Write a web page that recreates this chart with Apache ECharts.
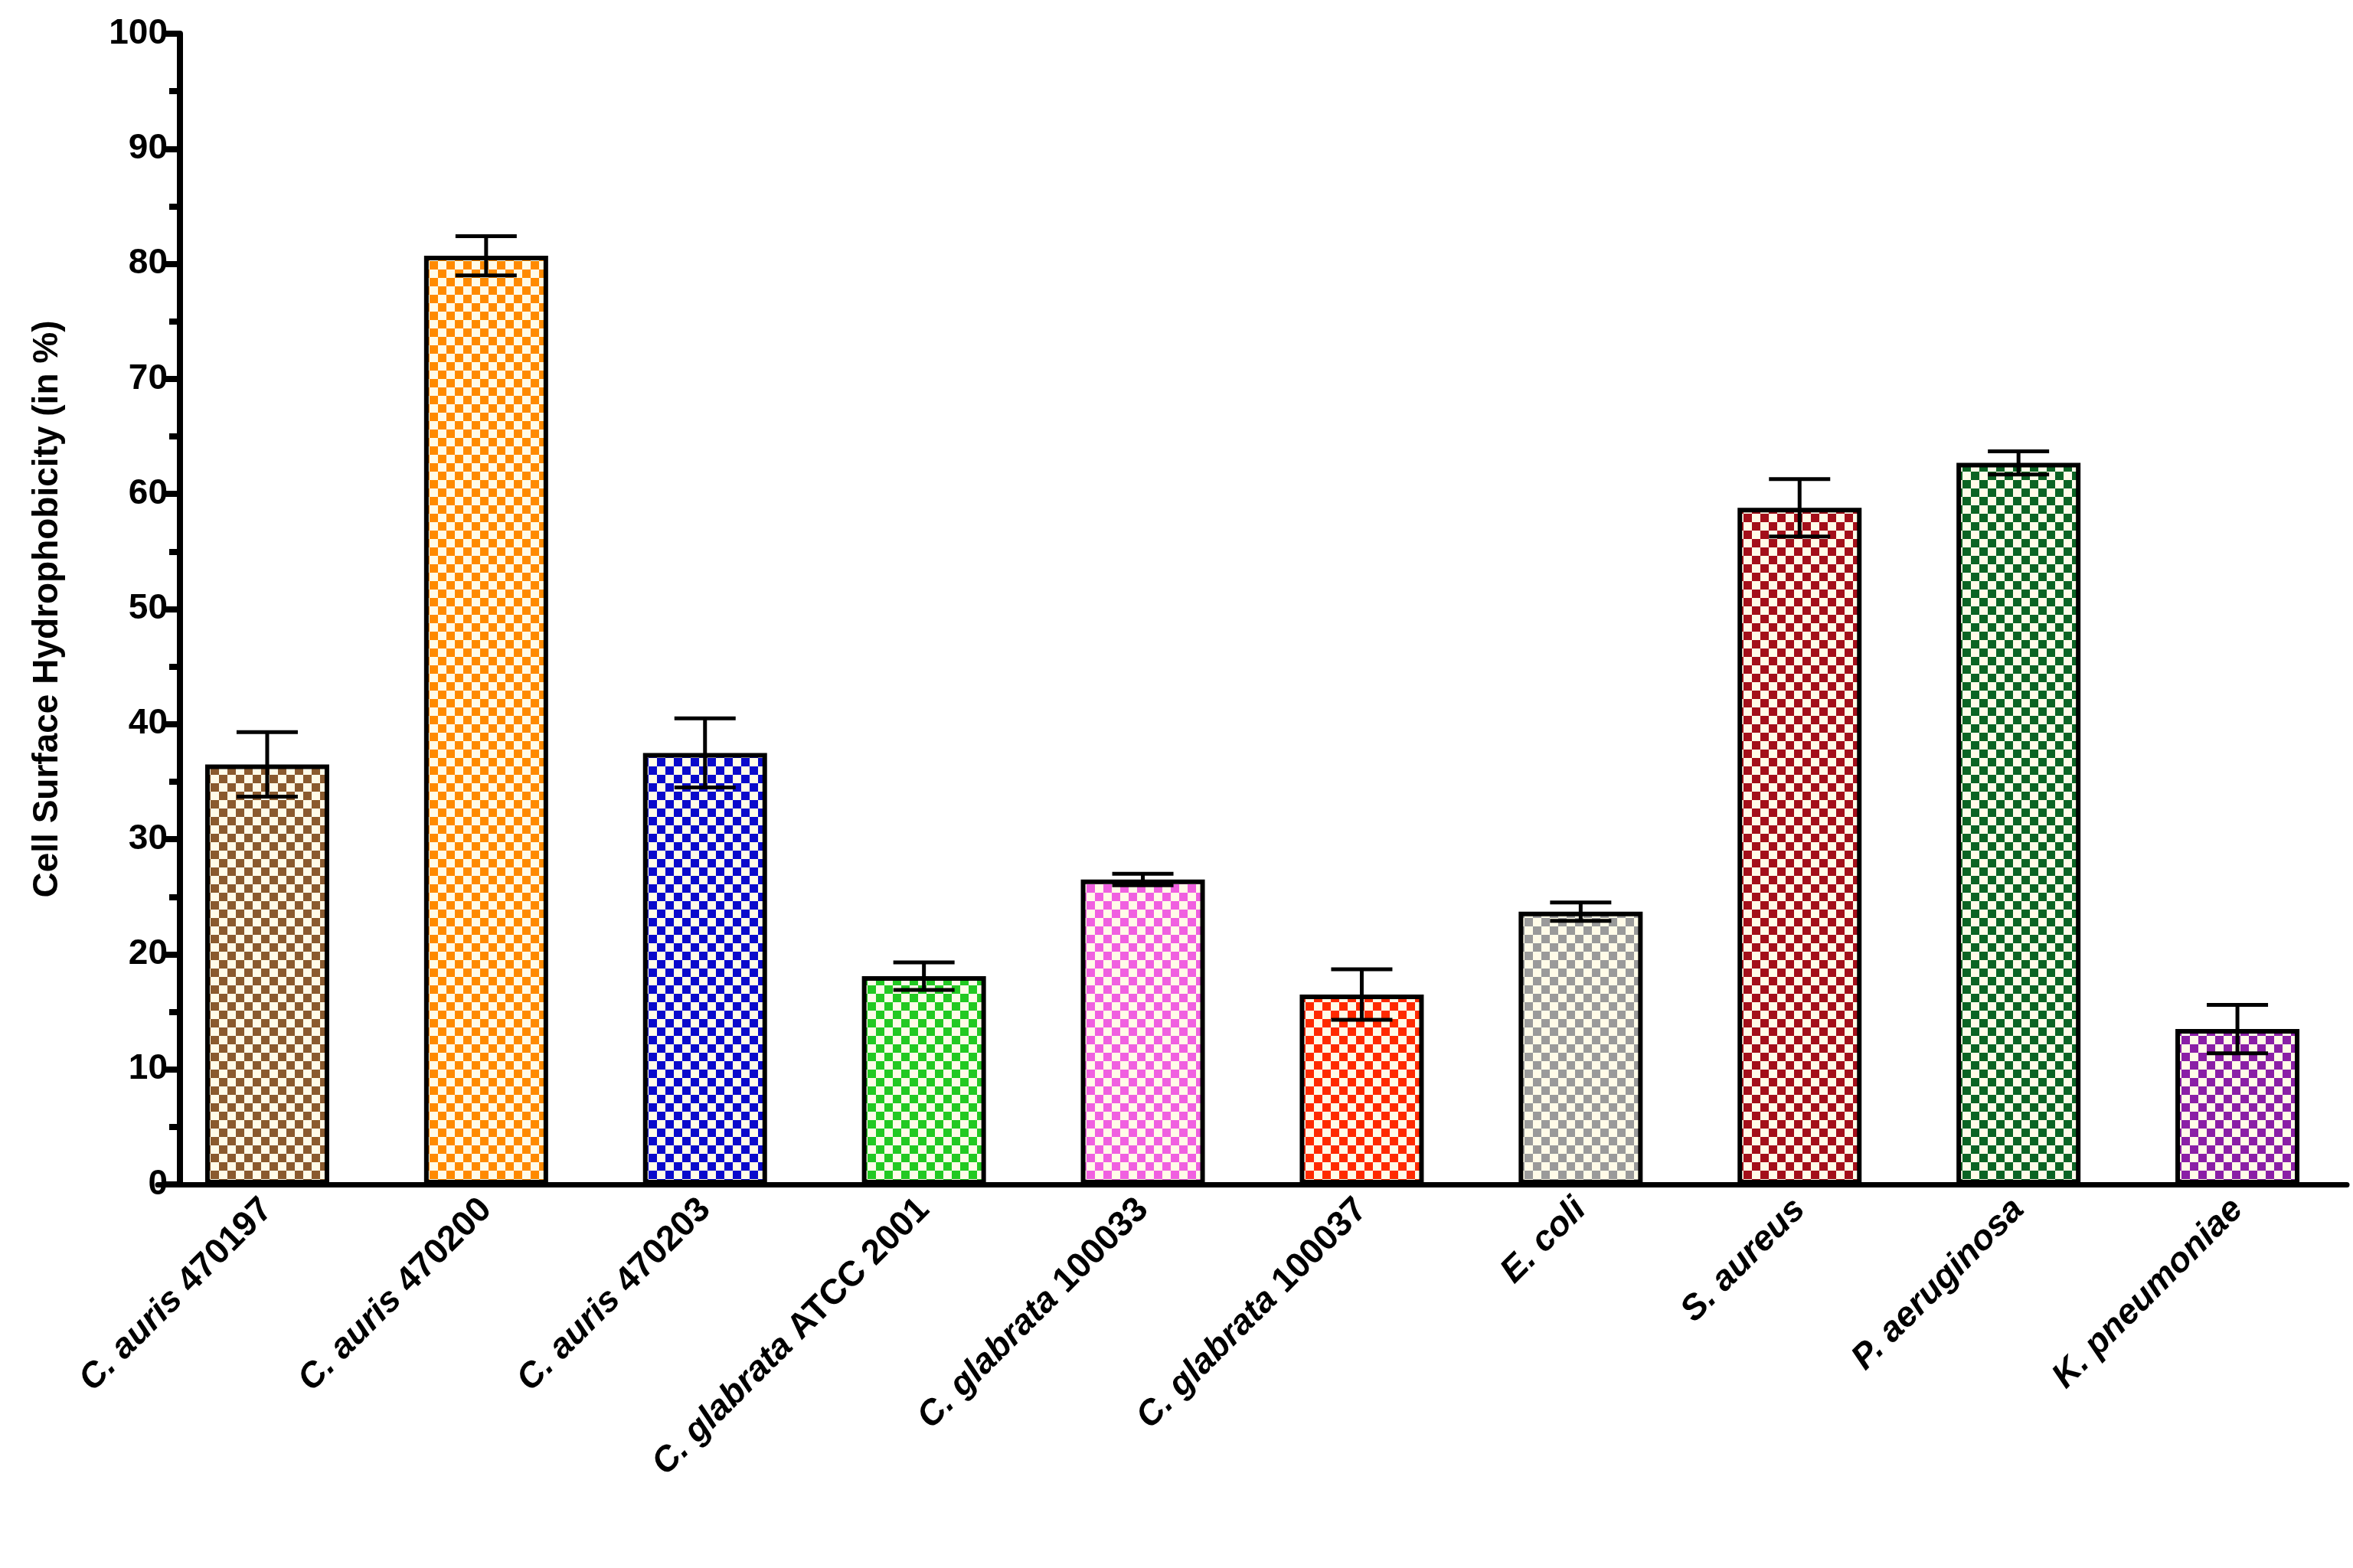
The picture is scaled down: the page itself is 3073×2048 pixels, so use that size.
<!DOCTYPE html>
<html>
<head>
<meta charset="utf-8">
<script src="https://cdn.jsdelivr.net/npm/echarts@6/dist/echarts.min.js"></script>
<style>
  html, body { margin: 0; padding: 0; background: #fff; }
  #chart { width: 3073px; height: 2048px; }
</style>
</head>
<body>
<div id="chart"></div>
<script>
// data
const genus = ['C. auris', 'C. auris', 'C. auris', 'C. glabrata', 'C. glabrata', 'C. glabrata', 'E. coli', 'S. aureus', 'P. aeruginosa', 'K. pneumoniae'];
const strain = ['470197', '470200', '470203', 'ATCC 2001', '100033', '100037', '', '', '', ''];
const means = [36.5, 80.7, 37.5, 18.1, 26.5, 16.5, 23.7, 58.8, 62.7, 13.5];
const errs = [2.8, 1.7, 3.0, 1.2, 0.5, 2.2, 0.8, 2.5, 1.0, 2.1];
const colors = ['#8a5a2e', '#ff8a00', '#0a0acc', '#22c922', '#f060e0', '#ff2a00', '#9a9a9a', '#a30f1a', '#0b6424', '#8a1fa6'];

const categories = genus.map((g, i) => strain[i] ? g + '|' + strain[i] : g);

// checkerboard fill
function checker(color) {
  const c = document.createElement('canvas');
  const s = 11;
  c.width = s * 2; c.height = s * 2;
  const ctx = c.getContext('2d');
  ctx.fillStyle = '#fffbe8';
  ctx.fillRect(0, 0, s * 2, s * 2);
  ctx.fillStyle = color;
  ctx.fillRect(0, 0, s, s);
  ctx.fillRect(s, s, s, s);
  return { image: c, repeat: 'repeat' };
}

const chart = echarts.init(document.getElementById('chart'));
const font = 'Liberation Sans, Arial';

chart.setOption({
  animation: false,
  grid: { left: 206, right: 8, top: 44, bottom: 501 },
  xAxis: {
    type: 'category',
    data: categories,
    axisLine: { lineStyle: { color: '#000', width: 7 } },
    axisTick: { alignWithLabel: true, length: 22, lineStyle: { color: '#000', width: 6 } },
    axisLabel: {
      rotate: 45,
      margin: 26,
      interval: 0,
      formatter: v => {
        const p = v.split('|');
        return p.length > 1 ? '{i|' + p[0] + ' }{n|' + p[1] + '}' : '{i|' + p[0] + '}';
      },
      rich: {
        i: { fontFamily: font, fontWeight: 'bold', fontStyle: 'italic', fontSize: 46, color: '#000' },
        n: { fontFamily: font, fontWeight: 'bold', fontSize: 46, color: '#000' }
      }
    }
  },
  yAxis: {
    type: 'value',
    min: 0, max: 100, interval: 10,
    offset: -29,
    name: 'Cell Surface Hydrophobicity (in %)',
    nameLocation: 'middle',
    nameGap: 150,
    nameTextStyle: { fontFamily: font, fontWeight: 'bold', fontSize: 46, color: '#000' },
    axisLine: { show: true, lineStyle: { color: '#000', width: 8 } },
    axisTick: { show: true, length: 24, lineStyle: { color: '#000', width: 8 } },
    minorTick: { show: true, splitNumber: 2, length: 14, lineStyle: { color: '#000', width: 8 } },
    splitLine: { show: false },
    axisLabel: { fontFamily: font, fontWeight: 'bold', fontSize: 46, color: '#000', margin: 16 }
  },
  series: [
    {
      type: 'bar',
      data: means.map((v, i) => ({ value: v, itemStyle: { color: checker(colors[i]) } })),
      barWidth: 162,
      itemStyle: { borderColor: '#000', borderWidth: 6 },
      z: 2
    },
    {
      type: 'custom',
      data: means.map((v, i) => [i, v, errs[i]]),
      z: 3,
      renderItem: (params, api) => {
        const x = api.value(0);
        const lo = api.coord([x, api.value(1) - api.value(2)]);
        const hi = api.coord([x, api.value(1) + api.value(2)]);
        const w = 40;
        const style = { stroke: '#000', lineWidth: 5 };
        return {
          type: 'group',
          children: [
            { type: 'line', shape: { x1: hi[0], y1: hi[1], x2: lo[0], y2: lo[1] }, style },
            { type: 'line', shape: { x1: hi[0] - w, y1: hi[1], x2: hi[0] + w, y2: hi[1] }, style },
            { type: 'line', shape: { x1: lo[0] - w, y1: lo[1], x2: lo[0] + w, y2: lo[1] }, style }
          ]
        };
      }
    }
  ]
});
</script>
</body>
</html>
